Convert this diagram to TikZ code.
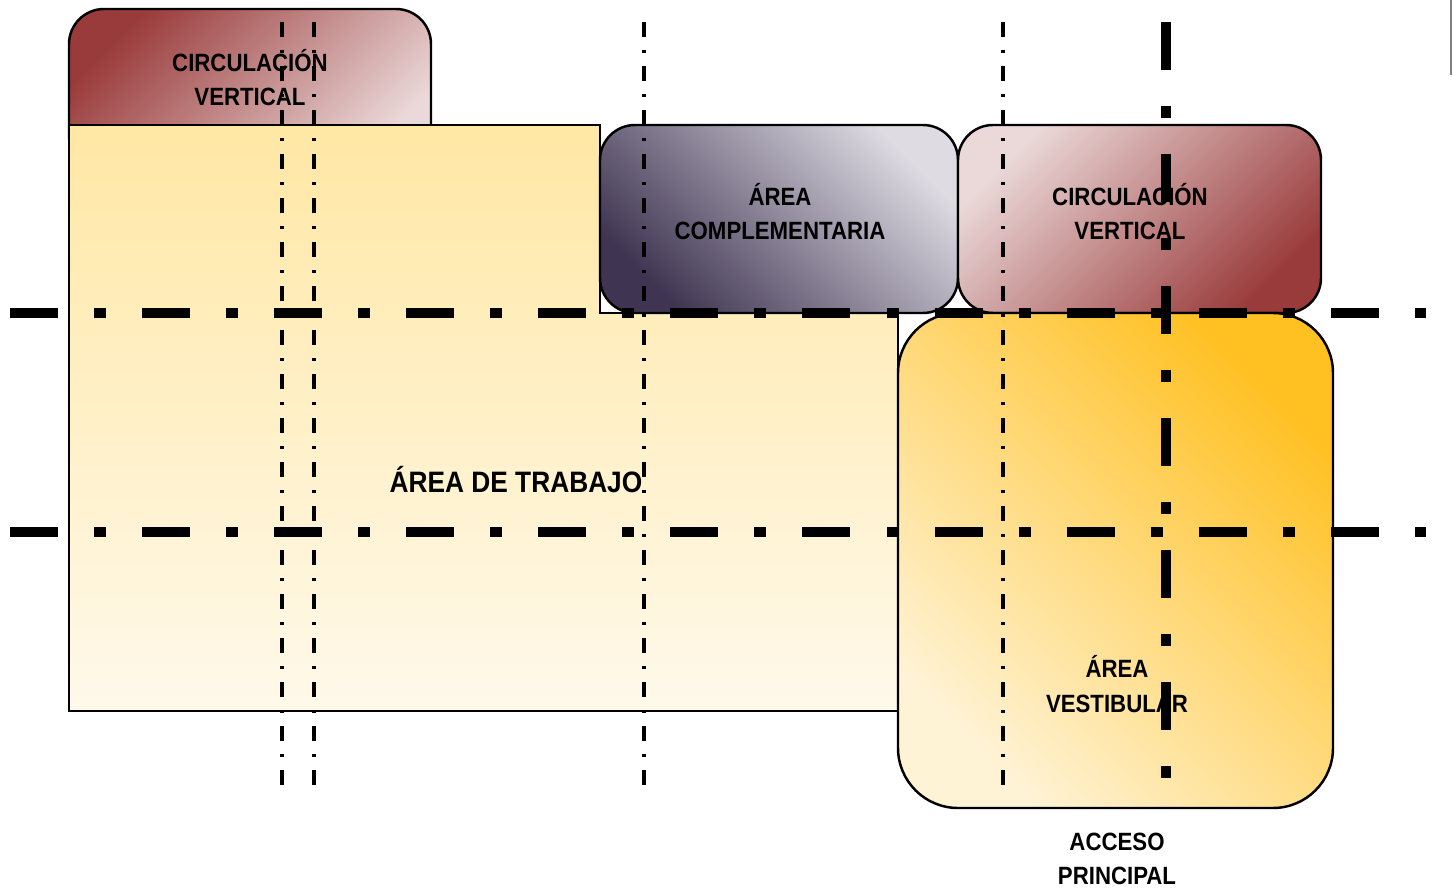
\documentclass[tikz,border=0pt]{standalone}
\usepackage{fontspec}
\newfontfamily\rotulofont[FakeStretch=0.89]{Liberation Sans}
\usetikzlibrary{positioning}

\definecolor{vinoOscuro}{HTML}{9A3B3B}
\definecolor{vinoClaro}{HTML}{EBD9D9}
\definecolor{grisOscuro}{HTML}{3F3552}
\definecolor{grisClaro}{HTML}{DEDBE3}
\definecolor{arenaFuerte}{HTML}{FFE7A4}
\definecolor{arenaSuave}{HTML}{FFF9EB}
\definecolor{ambar}{HTML}{FFC022}
\definecolor{ambarClaro}{HTML}{FFF3D6}

\tikzset{
  zona/.style={draw=black, line width=0.7pt, rounded corners=0.35cm},
  rotulo/.style={font=\rotulofont\bfseries\fontsize{7.1}{9.7}\selectfont, align=center, inner sep=0pt},
  ejeGrueso/.style={line width=0.1cm, dash pattern=on 0.48cm off 0.36cm on 0.12cm off 0.36cm},
  ejeFino/.style={line width=1pt, dash pattern=on 0.15cm off 0.13cm on 0.03cm off 0.13cm}
}

\begin{document}
\begin{tikzpicture}[x=0.01cm, y=-0.01cm]
    \useasboundingbox (0,0) rectangle (1454,888);

    % zonas
    \draw[zona, top color=vinoOscuro, bottom color=vinoClaro, shading angle=45] (69,9) rectangle (431,170);
    \draw[line width=0.7pt, top color=arenaFuerte, bottom color=arenaSuave]
        (69,125) -- (600,125) -- (600,313) -- (898,313) -- (898,711) -- (69,711) -- cycle;
    \draw[zona, top color=grisClaro, bottom color=grisOscuro, shading angle=-45] (600,125) rectangle (958,313);
    \draw[zona, top color=vinoClaro, bottom color=vinoOscuro, shading angle=45] (958,125) rectangle (1321,313);
    \draw[zona, rounded corners=0.6cm, top color=ambar, bottom color=ambarClaro, shading angle=-45] (898,313) rectangle (1333,808);

    % rotulos
    \node[rotulo] (circIzq) at (250,78) {CIRCULACIÓN\\VERTICAL};
    \node[rotulo] (compl) at (780,212) {ÁREA\\COMPLEMENTARIA};
    \node[rotulo] (circDer) at (1130,212) {CIRCULACIÓN\\VERTICAL};
    \node[rotulo, font=\rotulofont\bfseries\fontsize{8.4}{10}\selectfont] (trabajo) at (516,480) {ÁREA DE TRABAJO};
    \node[rotulo] (vestib) at (1117,684) {ÁREA\\VESTIBULAR};
    \node[rotulo] (acceso) at (1117,859) {ACCESO\\PRINCIPAL};

    % ejes
    \foreach \y in {313,532}
        \draw[ejeGrueso] (10,\y) -- (1426,\y);
    \draw[ejeGrueso] (1166,22) -- (1166,778);
    \foreach \x in {282,314,644,1003}
        \draw[ejeFino] (\x,22) -- (\x,785);

    \draw[gray, line width=0.02cm] (1451,0) -- (1451,75);
\end{tikzpicture}
\end{document}
